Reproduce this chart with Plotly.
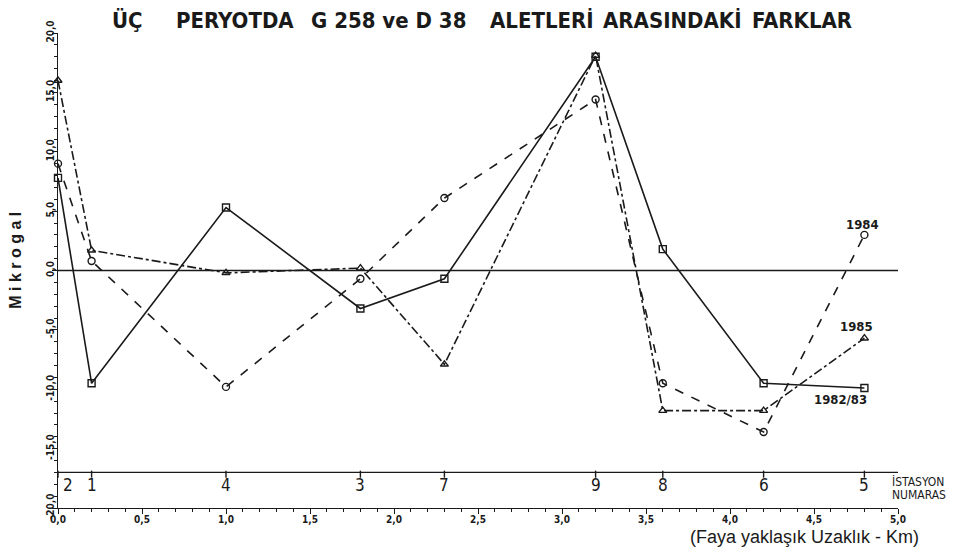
import plotly.graph_objects as go

# Distance from fault (km) for each station
distance_km = [0.0, 0.2, 1.0, 1.8, 2.3, 3.2, 3.6, 4.2, 4.8]
station_no = ["2", "1", "4", "3", "7", "9", "8", "6", "5"]

# Differences (microgal)
diff_1982_83 = [7.8, -9.5, 5.3, -3.2, -0.7, 18.0, 1.8, -9.5, -9.9]
diff_1984 = [9.0, 0.8, -9.8, -0.7, 6.1, 14.4, -9.5, -13.6, 3.0]
diff_1985 = [16.0, 1.7, -0.2, 0.2, -7.9, 18.1, -11.8, -11.8, -5.7]

x_tickvals = [0.0, 0.5, 1.0, 1.5, 2.0, 2.5, 3.0, 3.5, 4.0, 4.5, 5.0]
x_ticktext = ["0,0", "0,5", "1,0", "1,5", "2,0", "2,5", "3,0", "3,5", "4,0", "4,5", "5,0"]
y_tickvals = [-20, -15, -10, -5, 0, 5, 10, 15, 20]
y_ticktext = ["-20,0", "-15,0", "-10,0", "-5,0", "0,0", "5,0", "10,0", "15,0", "20,0"]

title_words = ["ÜÇ", "PERYOTDA", "G 258 ve D 38", "ALETLERİ", "ARASINDAKİ", "FARKLAR"]
title_word_x = [0.0833, 0.2107, 0.394, 0.5762, 0.7321, 0.8857]

INK = "#1a1a1a"
NARROW = "Liberation Sans Narrow, DejaVu Sans Condensed, Arial Narrow, sans-serif"
REG = "Liberation Sans, Arial, sans-serif"
STATION_LINE_Y = -17.0

fig = go.Figure()

series = [
    ("1982/83", diff_1982_83, "solid", "square-open"),
    ("1984", diff_1984, "dash", "circle-open"),
    ("1985", diff_1985, "dashdot", "triangle-up-open"),
]
for name, vals, dash, sym in series:
    fig.add_trace(go.Scatter(
        x=distance_km, y=vals, name=name, mode="lines+markers",
        line=dict(color=INK, width=1.6, dash=dash),
        marker=dict(symbol=sym, size=7, color=INK, line=dict(width=1.4, color=INK)),
        cliponaxis=False, showlegend=False,
    ))

# station tick marks hanging from the station line
fig.add_trace(go.Scatter(
    x=distance_km, y=[STATION_LINE_Y - 0.15] * len(distance_km), mode="markers",
    marker=dict(symbol="line-ns", size=5, color=INK, line=dict(width=1.4, color=INK)),
    showlegend=False, hoverinfo="skip", cliponaxis=False,
))

# zero line and station line
for yv in [0, STATION_LINE_Y]:
    fig.add_shape(type="line", xref="x", yref="y", x0=0, x1=5, y0=yv, y1=yv,
                  line=dict(color=INK, width=1.4))

# station numbers
for d, s in zip(distance_km, station_no):
    fig.add_annotation(x=d + (0.02 if d == 0 else 0), y=-18.1, xref="x", yref="y", text=s,
                       showarrow=False, xanchor="left" if d == 0 else "center",
                       font=dict(family=NARROW, size=17, color=INK))

# series labels
fig.add_annotation(x=4.79, y=3.85, text="<b>1984</b>", showarrow=False,
                   font=dict(family=NARROW, size=13, color=INK))
fig.add_annotation(x=4.75, y=-4.7, text="<b>1985</b>", showarrow=False,
                   font=dict(family=NARROW, size=13, color=INK))
fig.add_annotation(x=4.66, y=-10.9, text="<b>1982/83</b>", showarrow=False,
                   font=dict(family=NARROW, size=13, color=INK))

fig.add_annotation(x=0.990, y=-17.75, xref="paper", yref="y", text="İSTASYON",
                   showarrow=False, xanchor="left", yanchor="middle",
                   font=dict(family=NARROW, size=12, color=INK))
fig.add_annotation(x=0.990, y=-18.9, xref="paper", yref="y", text="NUMARAS",
                   showarrow=False, xanchor="left", yanchor="middle",
                   font=dict(family=NARROW, size=12, color=INK))

fig.add_annotation(x=0.889, y=-0.062, xref="paper", yref="paper",
                   text="(Faya yaklaşık Uzaklık - Km)", showarrow=False,
                   xanchor="center", yanchor="middle",
                   font=dict(family=REG, size=18, color=INK))

fig.add_annotation(x=-0.05, y=0.5206, xref="paper", yref="paper",
                   text="<b>M i k r o g a l</b>", showarrow=False, textangle=-90,
                   xanchor="center", yanchor="middle",
                   font=dict(family=REG, size=16, color=INK))

for w, px in zip(title_words, title_word_x):
    fig.add_annotation(x=px, y=1.026, xref="paper", yref="paper",
                       text="<b>" + w + "</b>", showarrow=False,
                       xanchor="center", yanchor="middle",
                       font=dict(family=NARROW, size=22, color=INK))

fig.update_xaxes(range=[0, 5], tickvals=x_tickvals, ticktext=x_ticktext,
                 showline=True, linecolor=INK, linewidth=1.4, ticks="outside",
                 ticklen=5, tickwidth=1.2, tickcolor=INK, showgrid=False, zeroline=False,
                 ticklabelstandoff=-3,
                 minor=dict(dtick=0.1, ticks="outside", ticklen=3, tickcolor=INK, showgrid=False),
                 tickfont=dict(family=NARROW, size=10, color=INK, weight="bold"))
fig.update_yaxes(range=[-20, 20], tickvals=y_tickvals, ticktext=y_ticktext,
                 showline=True, linecolor=INK, linewidth=1.4, ticks="outside",
                 ticklen=5, tickwidth=1.2, tickcolor=INK, showgrid=False, zeroline=False,
                 tickangle=-90, ticklabelstandoff=-6,
                 minor=dict(dtick=1, ticks="outside", ticklen=3, tickcolor=INK, showgrid=False),
                 tickfont=dict(family=NARROW, size=10, color=INK, weight="bold"))

fig.update_layout(width=954, height=546, margin=dict(l=50, r=64, t=14, b=46),
                  plot_bgcolor="white", paper_bgcolor="white", showlegend=False)

fig.write_html("out.html")
